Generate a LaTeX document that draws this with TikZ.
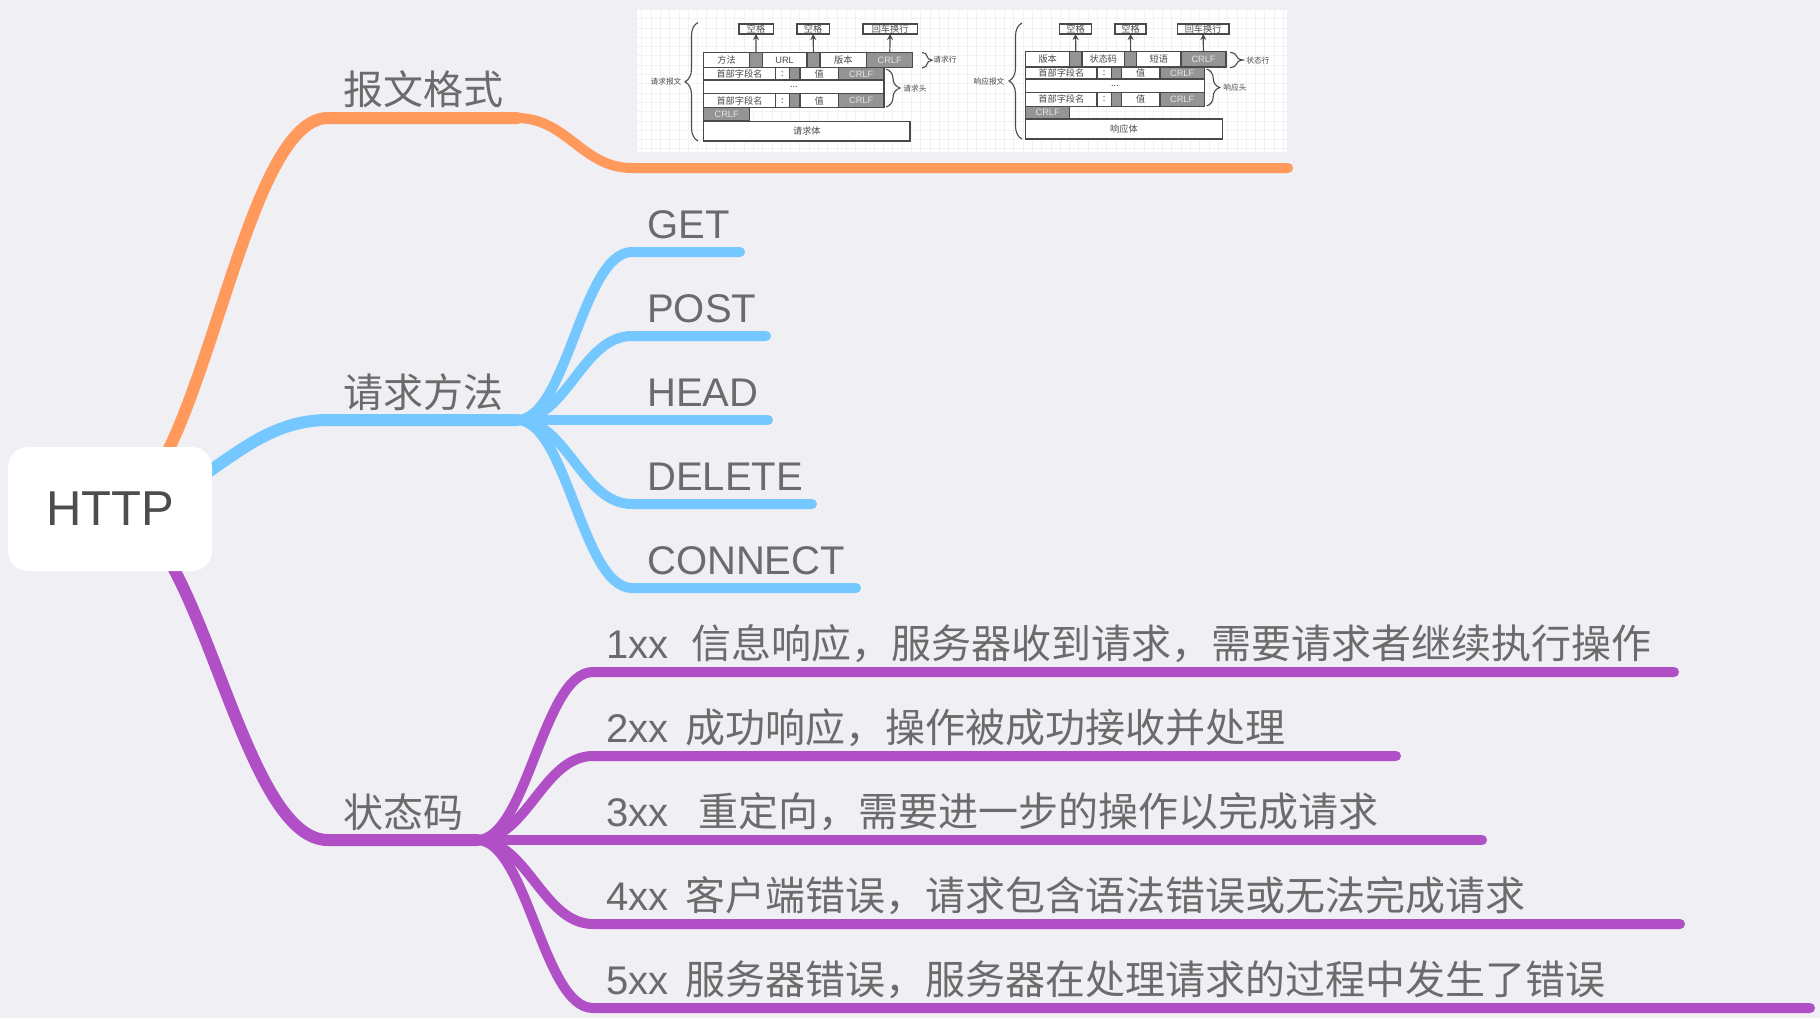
\documentclass[tikz,border=0pt]{standalone}
\usepackage{fontspec}
\setmainfont{Liberation Sans}
\newfontfamily\cjk{Noto Sans CJK SC}
\usepackage{xcolor}
\usepackage{tikz}
\usetikzlibrary{arrows.meta}
\usetikzlibrary{backgrounds}
\usetikzlibrary{decorations.pathreplacing}
\definecolor{bgc}{HTML}{EFEFF4}
\definecolor{orangec}{HTML}{FF9A5C}
\definecolor{bluec}{HTML}{74C7FF}
\definecolor{purplec}{HTML}{B04FC6}
\definecolor{txtc}{HTML}{6B6B6B}
\definecolor{rootc}{HTML}{4D4D4D}
\definecolor{edgec}{HTML}{4A4A4A}
\definecolor{greyc}{HTML}{949494}
\def\minidots{.{}.{}.}
\tikzset{
	spline/.style={out=0,in=180,out distance=#1,in distance=#1},
	mainline/.style={line width=12pt,line cap=round},
	subline/.style={line width=10pt,line cap=round},
	lbl/.style={anchor=base west,inner sep=0pt,text=txtc,font=\fontsize{40}{48}\selectfont},
	minilbl/.style={inner sep=0pt,text=edgec,font=\cjk\fontsize{7.7}{9}\selectfont},
	cellw/.style={draw=edgec,line width=1.1pt,fill=white,inner sep=0pt,outer sep=0pt,text=edgec,font=\cjk\fontsize{9.2}{10}\selectfont},
	cellg/.style={cellw,fill=greyc},
	cellc/.style={cellw,fill=greyc,text=white!90!black,font=\fontsize{9.2}{10}\selectfont},
	minibrace/.style={draw=edgec,line width=1.1pt,decorate,decoration={brace,amplitude=#1}},
	miniarrow/.style={draw=edgec,line width=1.2pt,-{Stealth[length=6pt,width=6pt]}},
}
\begin{document}
\begin{tikzpicture}[x=1pt,y=-1pt]
	\useasboundingbox (0,0) rectangle (1820,1018);
	\node[rectangle,rounded corners=20pt,fill=white,inner sep=0pt,minimum width=204pt,minimum height=124pt,text=rootc,font=\fontsize{49}{56}\selectfont] (http) at (110,509) {HTTP};
	\node[lbl] (fmt) at (343,104) {\cjk 报文格式};
	\node[lbl] (req) at (343,407) {\cjk 请求方法};
	\node[lbl] (code) at (343,827) {\cjk 状态码};
	\coordinate (fmtl) at (328,118);
	\coordinate (fmtr) at (517,118);
	\coordinate (reql) at (328,420);
	\coordinate (reqr) at (517,420);
	\coordinate (codel) at (328,840);
	\coordinate (coder) at (477,840);
	\coordinate (picl) at (632,168);
	\coordinate (picr) at (1288,168);
	\begin{scope}[on background layer]
		\fill[bgc] (0,0) rectangle (1820,1018);
		\draw[mainline,orangec] (http.center) to[spline=90pt] (fmtl) -- (fmtr);
		\draw[mainline,bluec] (http.center) to[spline=90pt] (reql) -- (reqr);
		\draw[mainline,purplec] (http.center) to[spline=90pt] (codel) -- (coder);
		\draw[subline,orangec] (fmtr) to[spline=50pt] (picl) -- (picr);
	\end{scope}
	\foreach \nm/\y/\xe/\txt in {get/252/740/GET,post/336/766/POST,head/420/768/HEAD,delete/504/812/DELETE,connect/588/856/CONNECT}{
		\node[lbl] (\nm) at (647,\y-14) {\txt};
		\coordinate (\nm l) at (632,\y);
		\coordinate (\nm r) at (\xe,\y);
		\begin{scope}[on background layer]
			\draw[subline,bluec] (reqr) to[spline=50pt] (\nm l) -- (\nm r);
		\end{scope}
	}
	\foreach \nm/\y/\xe/\txt in {
		one/672/1674/{1xx\ \ \cjk 信息响应，服务器收到请求，需要请求者继续执行操作},
		two/756/1396/{2xx\ \hspace{5.5pt}\cjk 成功响应，操作被成功接收并处理},
		three/840/1482/{3xx\ \ \hspace{7.5pt}\cjk 重定向，需要进一步的操作以完成请求},
		four/924/1680/{4xx\ \hspace{5.5pt}\cjk 客户端错误，请求包含语法错误或无法完成请求},
		five/1008/1810/{5xx\ \hspace{5.5pt}\cjk 服务器错误，服务器在处理请求的过程中发生了错误}}{
		\node[lbl] (\nm) at (606.5,\y-14) {\txt};
		\coordinate (\nm l) at (593,\y);
		\coordinate (\nm r) at (\xe,\y);
		\begin{scope}[on background layer]
			\draw[subline,purplec] (coder) to[spline=50pt] (\nm l) -- (\nm r);
		\end{scope}
	}
	\fill[white] (637,10) rectangle (1287,152);
	\draw[white!95!black,line width=0.8pt,step=9.3pt] (637,152) grid (1287,10);
	\foreach \nm/\xa/\ya/\xb/\yb/\kind/\txt in {
		qa/739/24/773.3/34/cellw/空格,
		qb/797/24/829.3/34/cellw/空格,
		qc/863/24/917.3/34/cellw/回车换行,
		qd/703.7/52.3/749.3/67.7/cellw/方法,
		qe/749.3/52.3/762.3/67.7/cellg/{},
		qf/762.3/52.3/807/67.7/cellw/{\rmfamily URL},
		qg/807/52.3/820/67.7/cellg/{},
		qh/820/52.3/866.7/67.7/cellw/版本,
		qi/866.7/52.3/912.7/67.7/cellc/CRLF,
		qj/703.7/67.7/775.3/80/cellw/首部字段名,
		qk/775.3/67.7/789.7/80/cellw/:,
		ql/789.7/67.7/800/80/cellg/{},
		qm/800/67.7/838.3/80/cellw/值,
		qn/838.3/67.7/884/80/cellc/CRLF,
		qo/703.7/80/884/93.7/cellw/\minidots,
		qp/703.7/93.7/775.3/107.7/cellw/首部字段名,
		qq/775.3/93.7/789.7/107.7/cellw/:,
		qr/789.7/93.7/800/107.7/cellg/{},
		qs/800/93.7/838.3/107.7/cellw/值,
		qt/838.3/93.7/884/107.7/cellc/CRLF,
		qu/703.7/107.7/749.7/120.7/cellc/CRLF,
		qv/703.7/121.7/910/141/cellw/请求体,
		ra/1059.3/24/1091.7/34/cellw/空格,
		rb/1115/24/1146/34/cellw/空格,
		rc/1177.3/24/1229/34/cellw/回车换行,
		rd/1025.7/51.7/1069.7/67/cellw/版本,
		re/1069.7/51.7/1082/67/cellg/{},
		rf/1082/51.7/1124.7/67/cellw/状态码,
		rg/1124.7/51.7/1136.7/67/cellg/{},
		rh/1136.7/51.7/1181/67/cellw/短语,
		ri/1181/51.7/1226/67/cellc/CRLF,
		rj/1025.7/67/1097/79/cellw/首部字段名,
		rk/1097/67/1111.3/79/cellw/:,
		rl/1111.3/67/1121.3/79/cellg/{},
		rm/1121.3/67/1160/79/cellw/值,
		rn/1160/67/1204.3/79/cellc/CRLF,
		ro/1025.7/79/1204.3/92.3/cellw/\minidots,
		rp/1025.7/92.3/1097/106.3/cellw/首部字段名,
		rq/1097/92.3/1111.3/106.3/cellw/:,
		rr/1111.3/92.3/1121.3/106.3/cellg/{},
		rs/1121.3/92.3/1160/106.3/cellw/值,
		rt/1160/92.3/1204.3/106.3/cellc/CRLF,
		ru/1025.7/106.3/1069.7/119/cellc/CRLF,
		rv/1025.7/119/1222.3/139/cellw/响应体}{
		\node[\kind,minimum width={(\xb-\xa)*1pt},minimum height={(\yb-\ya)*1pt}] (\nm) at ({(\xa+\xb)/2},{(\ya+\yb)/2}) {\txt};
	}
	\draw[miniarrow] (qe) -- (qa);
	\draw[miniarrow] (qg) -- (qb);
	\draw[miniarrow] (qi) -- (qc);
	\draw[miniarrow] (re) -- (ra);
	\draw[miniarrow] (rg) -- (rb);
	\draw[miniarrow] (ri) -- (rc);
	\coordinate (qba) at (698,141);
	\coordinate (qbb) at (698,22.5);
	\coordinate (qbc) at (922,52.3);
	\coordinate (qbd) at (922,68);
	\coordinate (qbe) at (886,69);
	\coordinate (qbf) at (886,107);
	\coordinate (rba) at (1022,139);
	\coordinate (rbb) at (1022,23);
	\coordinate (rbc) at (1230,52.3);
	\coordinate (rbd) at (1230,67.7);
	\coordinate (rbe) at (1206.7,69);
	\coordinate (rbf) at (1206.7,106);
	\draw[minibrace=13pt] (qba) -- (qbb);
	\draw[minibrace=10pt] (qbc) -- (qbd);
	\draw[minibrace=14pt] (qbe) -- (qbf);
	\draw[minibrace=13pt] (rba) -- (rbb);
	\draw[minibrace=13pt] (rbc) -- (rbd);
	\draw[minibrace=13pt] (rbe) -- (rbf);
	\node[minilbl] (qta) at (666,81.7) {请求报文};
	\node[minilbl] (qtb) at (945,60) {请求行};
	\node[minilbl] (qtc) at (915,89) {请求头};
	\node[minilbl] (rta) at (989,82) {响应报文};
	\node[minilbl] (rtb) at (1258,61) {状态行};
	\node[minilbl] (rtc) at (1235,88) {响应头};
\end{tikzpicture}
\end{document}
